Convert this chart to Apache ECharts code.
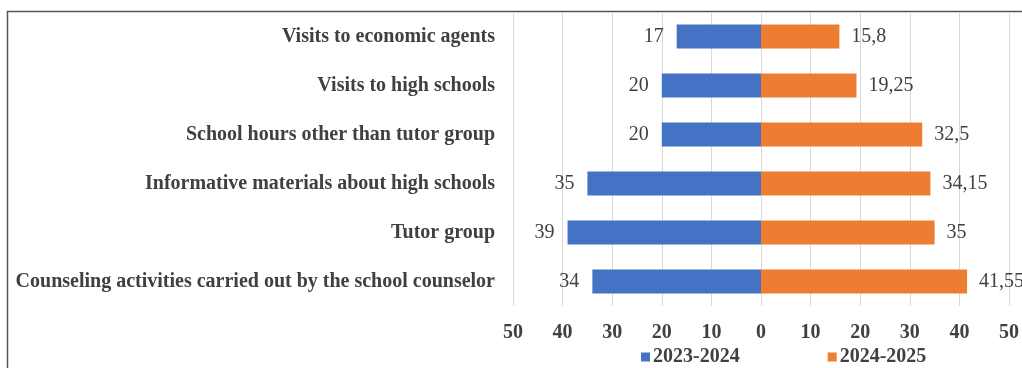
<!DOCTYPE html>
<html><head><meta charset="utf-8">
<script src="https://cdn.jsdelivr.net/npm/echarts@6/dist/echarts.min.js"></script>
<style>html,body{margin:0;padding:0;background:#fff}#c{width:1022px;height:368px}</style>
</head><body><div id="c"></div>
<script>
const categories = [
  "Visits to economic agents",
  "Visits to high schools",
  "School hours other than tutor group",
  "Informative materials about high schools",
  "Tutor group",
  "Counseling activities carried out by the school counselor"
];
const values2023 = [17, 20, 20, 35, 39, 34];
const values2025 = [15.8, 19.25, 32.5, 34.15, 35, 41.55];
const seriesNames = ["2023-2024", "2024-2025"];

const fmt = v => String(Math.abs(v)).replace('.', ',');
const FONT = '"Liberation Serif", "DejaVu Serif", serif';
const chart = echarts.init(document.getElementById('c'));
chart.setOption({
  animation: false,
  textStyle: {fontFamily: FONT},
  graphic: [{type: 'rect', shape: {x: 7.5, y: 11.5, width: 1100, height: 500},
    style: {fill: 'none', stroke: '#555', lineWidth: 1.5}, silent: true}],
  grid: {left: 513, right: 12, top: 12, bottom: 62, containLabel: false},
  legend: {
    left: 636, top: 342, itemWidth: 9, itemHeight: 9, itemGap: 88, icon: 'rect',
    textStyle: {fontFamily: FONT, fontWeight: 'bold', fontSize: 20, color: '#404040', padding: [0, 0, 0, -2]},
    data: seriesNames
  },
  xAxis: {
    type: 'value', min: -50, max: 50, interval: 10,
    axisLine: {show: false}, axisTick: {show: false},
    splitLine: {lineStyle: {color: '#d9d9d9'}},
    axisLabel: {formatter: v => String(Math.abs(v)), fontFamily: FONT, fontWeight: 'bold',
      fontSize: 20, color: '#404040', margin: 17}
  },
  yAxis: {
    type: 'category', data: categories, inverse: true,
    axisLine: {show: false}, axisTick: {show: false},
    axisLabel: {fontFamily: FONT, fontWeight: 'bold', fontSize: 20, color: '#404040', margin: 18}
  },
  series: [
    {name: seriesNames[0], type: 'bar', barWidth: 24, barGap: '-100%',
     data: values2023.map(v => -v), itemStyle: {color: '#4472C4'},
     label: {show: true, position: 'left', distance: 13, formatter: p => fmt(p.value),
       fontFamily: FONT, fontSize: 20, color: '#404040'}},
    {name: seriesNames[1], type: 'bar', barWidth: 24, barGap: '-100%',
     data: values2025, itemStyle: {color: '#ED7D31'},
     label: {show: true, position: 'right', distance: 12, formatter: p => fmt(p.value),
       fontFamily: FONT, fontSize: 20, color: '#404040'}}
  ]
});
</script></body></html>
